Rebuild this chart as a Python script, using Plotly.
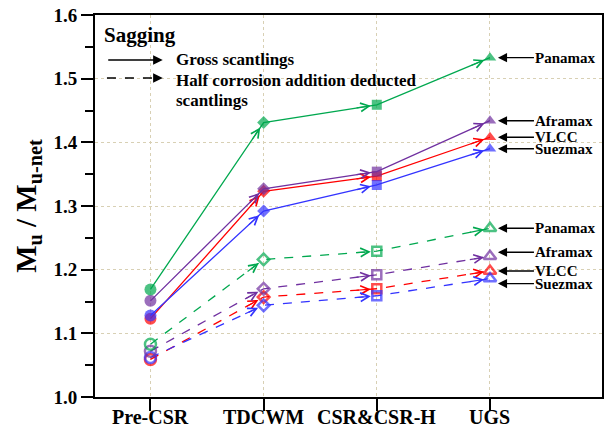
import plotly.graph_objects as go

# Design rule categories on the x axis
categories = ["Pre-CSR", "TDCWM", "CSR&CSR-H", "UGS"]
ships = ["Panamax", "Aframax", "VLCC", "Suezmax"]

# Mu / Mu-net, gross scantlings
gross_panamax = [1.169, 1.431, 1.459, 1.533]
gross_aframax = [1.151, 1.327, 1.354, 1.434]
gross_vlcc = [1.123, 1.323, 1.347, 1.408]
gross_suezmax = [1.128, 1.292, 1.333, 1.390]

# Mu / Mu-net, half corrosion addition deducted scantlings
half_panamax = [1.083, 1.216, 1.229, 1.265]
half_aframax = [1.072, 1.170, 1.192, 1.221]
half_vlcc = [1.059, 1.157, 1.170, 1.198]
half_suezmax = [1.062, 1.144, 1.159, 1.186]

colors = {"Panamax": "#00a84f", "Aframax": "#7030a0", "VLCC": "#ff0000", "Suezmax": "#3333ff"}

gross = {"Panamax": gross_panamax, "Aframax": gross_aframax, "VLCC": gross_vlcc, "Suezmax": gross_suezmax}
half = {"Panamax": half_panamax, "Aframax": half_aframax, "VLCC": half_vlcc, "Suezmax": half_suezmax}

solid_symbols = ["circle", "diamond", "square", "triangle-up"]
open_symbols = ["circle-open", "diamond-open", "square-open", "triangle-up-open"]
solid_sizes = [12, 10, 10, 11]
open_sizes = [11, 9, 9, 11]

FONT = "Liberation Serif"
x = list(range(len(categories)))

# approximate pixels per data unit, used to keep arrowhead stems short
PX_X, PX_Y = 113.6, 637.0
STEM = 22.0

fig = go.Figure()
annotations = []

draw_order = ["VLCC", "Suezmax", "Aframax", "Panamax"]


def add_series(vals, color, dash, symbols, sizes):
    fig.add_trace(go.Scatter(
        x=x, y=vals, mode="lines+markers",
        line=dict(color=color, width=1.3, dash=dash),
        marker=dict(symbol=symbols, size=sizes, color=color,
                    line=dict(color=color, width=2.5 if dash != "solid" else 0)),
        showlegend=False, hoverinfo="skip",
    ))
    # arrowhead on every segment, just before the next marker
    for i in range(1, len(vals)):
        dxp = (x[i] - x[i - 1]) * PX_X
        dyp = (vals[i] - vals[i - 1]) * PX_Y
        L = (dxp ** 2 + dyp ** 2) ** 0.5
        f = STEM / L
        annotations.append(dict(
            x=x[i], y=vals[i], xref="x", yref="y",
            ax=x[i] - f * (x[i] - x[i - 1]), ay=vals[i] - f * (vals[i] - vals[i - 1]),
            axref="x", ayref="y", text="", showarrow=True,
            arrowhead=5, arrowsize=1.4, arrowwidth=1.2, arrowcolor=color, standoff=6,
        ))


for s in draw_order:
    add_series(half[s], colors[s], "dash", open_symbols, open_sizes)
for s in draw_order:
    add_series(gross[s], colors[s], "solid", solid_symbols, solid_sizes)

# ship labels on the right, pointing at the UGS markers
label_font = dict(family=FONT, size=15, color="black", weight="bold")
half_shift = {"Panamax": 0, "Aframax": 4, "VLCC": 0, "Suezmax": -5}
for s in ships:
    for vals, shift in ((gross[s], 0), (half[s], half_shift[s])):
        annotations.append(dict(
            x=x[-1], y=vals[-1], xref="x", yref="y", yshift=shift,
            text=s, font=label_font, xanchor="left", borderpad=0,
            showarrow=True, ax=44, ay=0, arrowhead=2, arrowsize=1.3,
            arrowwidth=1.4, arrowcolor="black", standoff=8,
        ))

# category labels under the axis
tick_font = dict(family=FONT, size=20, color="black", weight="bold")
for i, c in enumerate(categories):
    annotations.append(dict(
        x=x[i], y=0, xref="x", yref="paper", yanchor="top", yshift=-7,
        text=c, font=tick_font, showarrow=False,
    ))

# legend block in the upper left corner
def px(xp):
    return (xp - 95) / 509.0


def py(yp):
    return (397 - yp) / 382.0


legend_font = dict(family=FONT, size=17, color="black", weight="bold")
legend_lines = [
    ("Sagging", 102, 35, 21),
    ("Gross scantlings", 174, 60, 17),
    ("Half corrosion addition deducted", 174, 80, 17),
    ("scantlings", 174, 100, 17),
]
for txt, lx, ly, size in legend_lines:
    annotations.append(dict(
        x=px(lx), y=py(ly), xref="paper", yref="paper", text=txt,
        font=dict(family=FONT, size=size, color="black", weight="bold"),
        xanchor="left", yanchor="middle", showarrow=False,
    ))
annotations += [
    dict(x=px(163), y=py(60), xref="paper", yref="paper", text="", showarrow=True,
         ax=-56, ay=0, arrowhead=2, arrowsize=1.2, arrowwidth=1.6, arrowcolor="black"),
    dict(x=px(163), y=py(78), xref="paper", yref="paper", text="", showarrow=True,
         ax=-10, ay=0, arrowhead=2, arrowsize=1.2, arrowwidth=1.6, arrowcolor="black"),
]
shapes = [
    dict(type="line", xref="paper", yref="paper", x0=px(107), x1=px(155),
         y0=py(78), y1=py(78), line=dict(color="black", width=1.6, dash="dash")),
]

grid_col = "#d8d0b4"
fig.update_layout(
    width=607, height=437,
    margin=dict(l=95, r=3, t=15, b=40),
    plot_bgcolor="white", paper_bgcolor="white",
    annotations=annotations, shapes=shapes,
    xaxis=dict(
        range=[-0.49, 3.99], tickvals=x, showticklabels=False,
        ticks="outside", ticklen=12, tickwidth=2, tickcolor="black",
        showline=True, linecolor="black", linewidth=2, mirror=True,
        showgrid=True, gridcolor=grid_col, griddash="dot", gridwidth=1,
        zeroline=False, fixedrange=True,
    ),
    yaxis=dict(
        range=[1.0, 1.6], dtick=0.1, tickformat=".1f",
        tickfont=dict(family=FONT, size=19, color="black", weight="bold"),
        ticks="outside", ticklen=12, tickwidth=2, tickcolor="black",
        minor=dict(dtick=0.05, ticks="outside", ticklen=8, tickwidth=2, tickcolor="black", showgrid=False),
        showline=True, linecolor="black", linewidth=2, mirror=True,
        showgrid=True, gridcolor=grid_col, griddash="dot", gridwidth=1,
        zeroline=False, fixedrange=True,
        title=dict(text="M<sub>u</sub> / M<sub>u-net</sub>",
                   font=dict(family=FONT, size=29, color="black", weight="bold"),
                   standoff=8),
    ),
)

fig.write_html("out.html")
